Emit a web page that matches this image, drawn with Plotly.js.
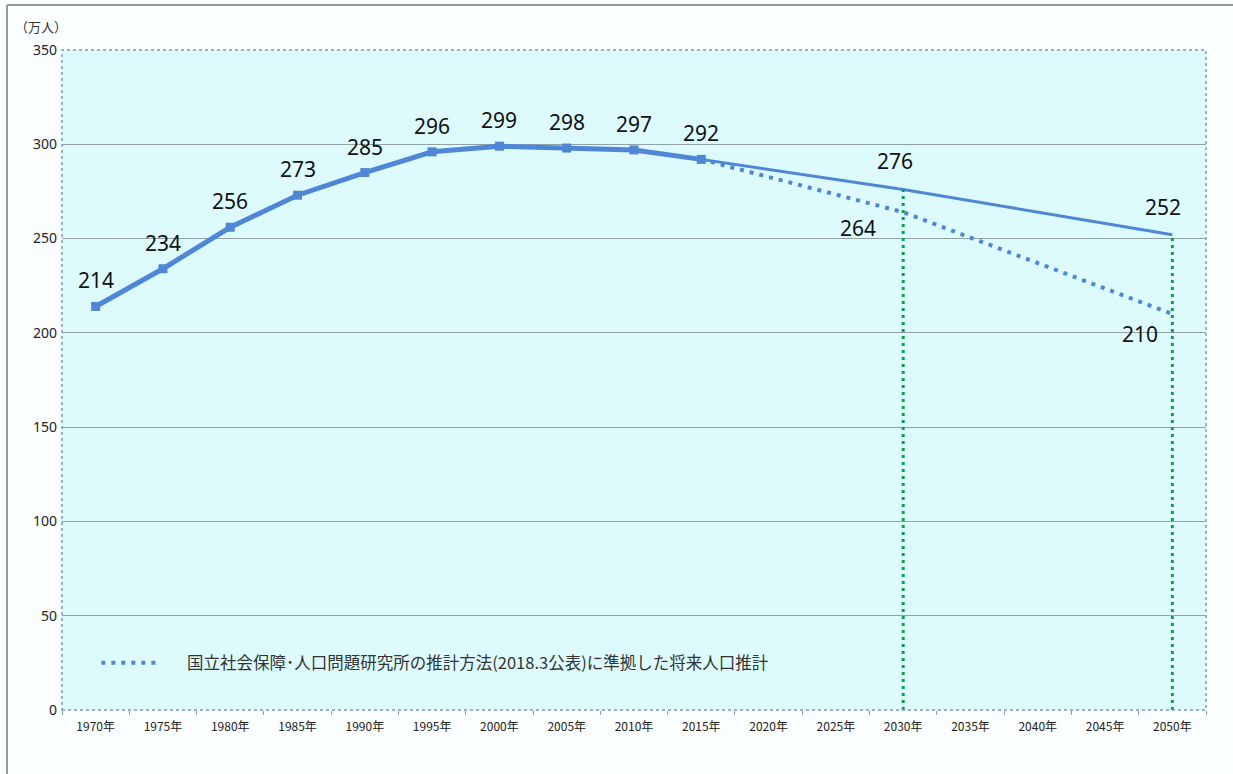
<!DOCTYPE html>
<html>
<head>
<meta charset="utf-8">
<script src="https://cdn.plot.ly/plotly-3.0.1.min.js"></script>
<style>html,body{margin:0;padding:0;background:#fff;}#chart{width:1233px;height:774px;}</style>
</head>
<body>
<div id="chart"></div>
<script>
// ---- data ----
var years = ["1970年","1975年","1980年","1985年","1990年","1995年","2000年","2005年","2010年","2015年","2020年","2025年","2030年","2035年","2040年","2045年","2050年"];
var actual = [214,234,256,273,285,296,299,298,297,292,null,null,null,null,null,null,null];
var projSolid = [null,null,null,null,null,null,null,null,null,292,null,null,276,null,null,null,252];
var projIPSS = [null,null,null,null,null,null,null,null,null,292,null,null,264,null,null,null,210];
var legendName = "国立社会保障･人口問題研究所の推計方法(2018.3公表)に準拠した将来人口推計";
var yTicks = [0,50,100,150,200,250,300,350];
var unitLabel = "（万人）";

var blue = "#4F86D6";
var green = "#10A04C";
var cjk = "'Noto Sans CJK JP', 'Noto Sans', sans-serif";

var traces = [];
traces.push({x:years, y:actual, mode:'lines+markers', showlegend:false,
  line:{color:blue, width:5}, marker:{symbol:'square', size:9, color:blue}});
traces.push({x:years, y:projSolid, mode:'lines', connectgaps:true, showlegend:false,
  line:{color:blue, width:3}});
traces.push({x:years, y:projIPSS, mode:'lines', connectgaps:true, name:"\u2003\u2005" + legendName, showlegend:true,
  line:{color:blue, width:4, dash:'4px,6px'}});
// green vertical guides at 2030 and 2050
[12,16].forEach(function(i){
  traces.push({x:[years[i],years[i]], y:[0, projSolid[i]], mode:'lines', showlegend:false, hoverinfo:'skip',
    line:{color:green, width:3, dash:'3px,4px'}});
});

// value labels
var ann = [];
actual.forEach(function(v,i){ if(v!==null) ann.push({x:years[i], y:v, text:String(v), showarrow:false, yshift:26, xshift:0}); });
var offsSolid = {12:[-8,29], 16:[-9,28]};
var offsIPSS = {12:[-45,-16], 16:[-32,-20]};
projSolid.forEach(function(v,i){ if(v!==null && offsSolid[i]) ann.push({x:years[i], y:v, text:String(v), showarrow:false, xshift:offsSolid[i][0], yshift:offsSolid[i][1]}); });
projIPSS.forEach(function(v,i){ if(v!==null && offsIPSS[i]) ann.push({x:years[i], y:v, text:String(v), showarrow:false, xshift:offsIPSS[i][0], yshift:offsIPSS[i][1]}); });
ann.forEach(function(a){ a.font = {family:"'Noto Sans', 'Open Sans', sans-serif", size:21, color:'#111'}; });
ann.push({xref:'paper', yref:'paper', x:-0.018, y:1.035, xanchor:'center', yanchor:'middle', text:unitLabel, showarrow:false,
  font:{family:cjk, size:13, color:'#333'}});

var layout = {
  width:1233, height:774,
  margin:{l:62, r:27, t:50, b:64},
  paper_bgcolor:'#FBFEFF',
  plot_bgcolor:'#DDFBFD',
  font:{family:cjk, color:'#222'},
  xaxis:{type:'category', categoryorder:'array', categoryarray:years, range:[-0.5,16.5], showgrid:false, zeroline:false, showline:false,
    ticks:'outside', ticklen:4, tickcolor:'#8899aa', tickson:'boundaries', ticklabelstandoff:8,
    tickfont:{family:cjk, size:12, color:'#222'}, fixedrange:true},
  yaxis:{range:[0,350], tickvals:yTicks, showgrid:true, gridcolor:'#8FA3A6', gridwidth:1, zeroline:false, showline:false,
    ticks:'', ticklabelstandoff:4, tickfont:{family:"'Noto Sans', sans-serif", size:14, color:'#222'}, fixedrange:true},
  showlegend:true,
  legend:{x:0.03, y:0.071, xanchor:'left', yanchor:'middle', bgcolor:'rgba(0,0,0,0)', itemwidth:60,
    font:{family:cjk, size:16.5, color:'#333'}},
  annotations:ann,
  shapes:[
    {type:'rect', xref:'paper', yref:'paper', x0:0, x1:1, y0:0, y1:1, line:{color:'#7F9AB0', width:1.5, dash:'dot'}, layer:'above'},
    {type:'line', xref:'paper', yref:'paper', x0:(7-62)/1144, x1:(7-62)/1144, y0:-0.1, y1:(710-5)/660, line:{color:'#999', width:2}},
    {type:'line', xref:'paper', yref:'paper', x0:(7-62)/1144, x1:1.03, y0:(710-5)/660, y1:(710-5)/660, line:{color:'#999', width:2}}
  ]
};
Plotly.newPlot('chart', traces, layout, {displayModeBar:false, staticPlot:true});
</script>
</body>
</html>
